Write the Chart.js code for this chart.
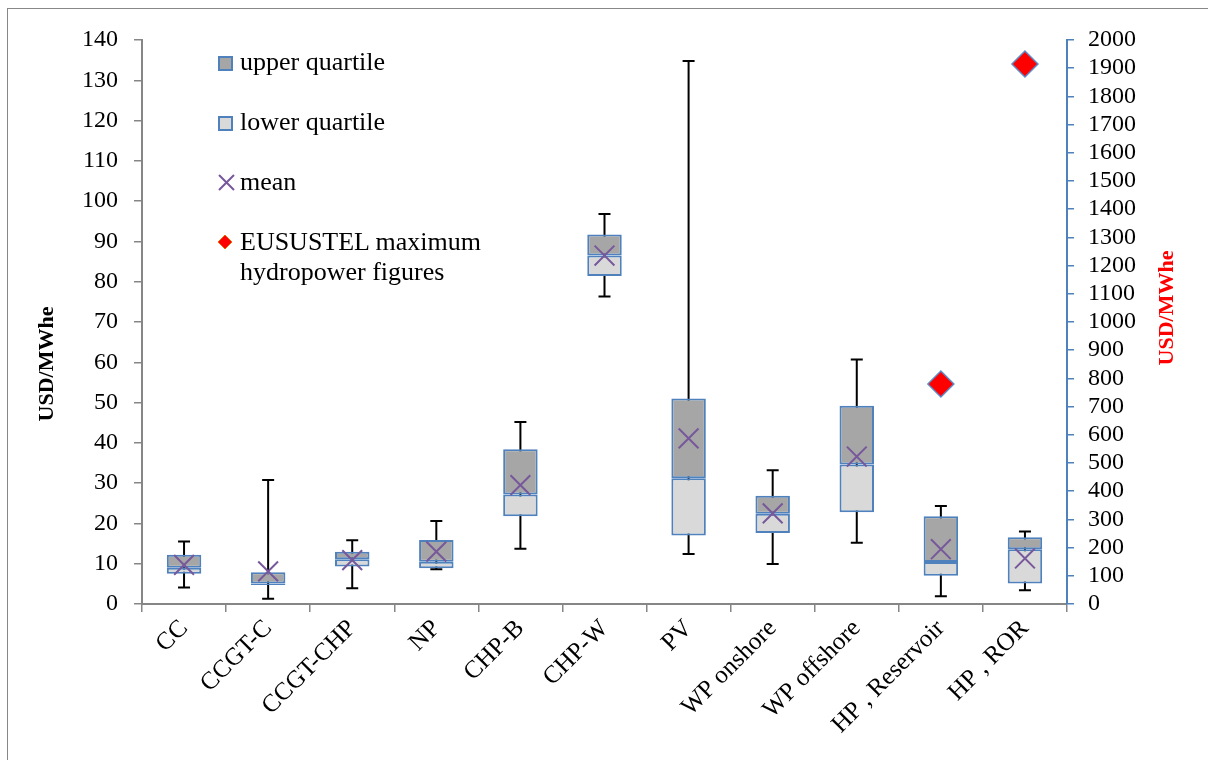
<!DOCTYPE html>
<html>
<head>
<meta charset="utf-8">
<script src="https://cdn.jsdelivr.net/npm/chart.js@4"></script>
<style>
  body { margin: 0; background: #fff; }
  .wrap { position: relative; width: 1208px; height: 760px; overflow: hidden; }
  .frame { position: absolute; left: 7px; top: 8px; width: 1220px; height: 780px; border: 1px solid #888; box-sizing: border-box; pointer-events: none; }
  canvas { position: absolute; left: 0; top: 0; }
  .legend { position: absolute; left: 218px; top: 47px; font-family: "Liberation Serif", serif; font-size: 26px; color: #000; }
  .legend .item { position: absolute; left: 0; white-space: nowrap; line-height: 30px; }
  .legend .txt { position: absolute; left: 22px; top: 0; }
  .sw { position: absolute; left: 0; top: 9px; width: 11px; height: 11px; border: 2px solid #4F81BD; }
  .ytitle { position: absolute; font-family: "Liberation Serif", serif; font-weight: bold; font-size: 22px; white-space: nowrap;
            transform: translate(-50%, -50%) rotate(-90deg); }
</style>
</head>
<body>
<div class="wrap">
  <canvas id="chart" width="1208" height="760"></canvas>
  <div class="frame"></div>
  <div class="ytitle" style="left:46px; top:364px; color:#000">USD/MWhe</div>
  <div class="ytitle" style="left:1166px; top:308px; color:#FF0000">USD/MWhe</div>
  <div class="legend">
    <div class="item" style="top:0px"><span class="sw" style="background:#A6A6A6"></span><span class="txt">upper quartile</span></div>
    <div class="item" style="top:60px"><span class="sw" style="background:#D9D9D9"></span><span class="txt">lower quartile</span></div>
    <div class="item" style="top:120px"><svg width="20" height="20" style="position:absolute;left:-1px;top:6px"><path d="M2 2 L17 17 M17 2 L2 17" stroke="#77589B" stroke-width="2"/></svg><span class="txt">mean</span></div>
    <div class="item" style="top:180px"><svg width="20" height="20" style="position:absolute;left:-2px;top:6px"><path d="M9 2 L16 9 L9 16 L2 9 Z" fill="#FF0000" stroke="#E46C0A" stroke-width="1"/></svg><span class="txt">EUSUSTEL maximum<br>hydropower figures</span></div>
  </div>
</div>
<script>
const categories = ['CC', 'CCGT-C', 'CCGT-CHP', 'NP', 'CHP-B', 'CHP-W', 'PV', 'WP onshore', 'WP offshore', 'HP , Reservoir', 'HP , ROR'];
const whiskerLow = [4.1, 1.3, 3.9, 8.6, 13.7, 76.3, 12.4, 9.9, 15.2, 1.9, 3.4];
const q1 = [7.5, 4.7, 9.3, 8.9, 21.8, 81.4, 17.0, 17.6, 22.8, 7.0, 5.1];
const median = [9.0, 5.1, 11.1, 10.5, 27.2, 86.5, 31.2, 22.4, 34.6, 10.4, 13.6];
const q3 = [12.2, 7.9, 13.0, 15.9, 38.4, 91.7, 51.0, 26.9, 49.2, 21.8, 16.6];
const whiskerHigh = [15.5, 30.8, 15.8, 20.6, 45.2, 96.8, 134.8, 33.2, 60.7, 24.3, 18.0];
const mean = [9.7, 8.1, 10.9, 13.0, 29.5, 86.5, 41.1, 22.5, 36.6, 13.6, 11.3];
const eusustelMax = [null, null, null, null, null, null, null, null, null, 780, 1915];
const leftTicks = { min: 0, max: 140, step: 10 };
const rightTicks = { min: 0, max: 2000, step: 100 };

const serif = "'Liberation Serif', 'Times New Roman', serif";

// whiskers drawn behind the boxes, using the chart's own scales
const whiskers = {
    id: 'whiskers',
    beforeDatasetsDraw(chart) {
        const ctx = chart.ctx;
        const x = chart.scales.x;
        const y = chart.scales.y;
        ctx.save();
        ctx.strokeStyle = '#000';
        ctx.lineWidth = 2;
        for (let i = 0; i < categories.length; i++) {
            let cx = x.getPixelForValue(i);
            let top = y.getPixelForValue(whiskerHigh[i]);
            let bot = y.getPixelForValue(whiskerLow[i]);
            ctx.beginPath();
            ctx.moveTo(cx, top); ctx.lineTo(cx, bot);
            ctx.moveTo(cx - 6, top); ctx.lineTo(cx + 6, top);
            ctx.moveTo(cx - 6, bot); ctx.lineTo(cx + 6, bot);
            ctx.stroke();
        }
        ctx.restore();
    }
};

let ctx = document.getElementById('chart');
let chart = new Chart(ctx, {
    type: 'bar',
    data: {
        labels: categories,
        datasets: [
            {
                type: 'line',
                label: 'mean',
                data: mean,
                showLine: false,
                pointStyle: 'crossRot',
                pointRadius: 14,
                pointBorderColor: '#77589B',
                pointBorderWidth: 2,
                borderColor: '#77589B',
                order: 0
            },
            {
                type: 'line',
                label: 'EUSUSTEL maximum hydropower figures',
                data: eusustelMax,
                yAxisID: 'y1',
                showLine: false,
                pointStyle: 'rectRot',
                pointRadius: 13,
                pointBackgroundColor: '#FF0000',
                pointBorderColor: '#5B8BC9',
                pointBorderWidth: 1.5,
                order: 0
            },
            {
                label: 'upper quartile',
                data: median.map((m, i) => [m, q3[i]]),
                backgroundColor: '#A6A6A6',
                borderColor: '#4F81BD',
                borderWidth: 2,
                borderSkipped: false,
                grouped: false,
                categoryPercentage: 1,
                barPercentage: 0.41,
                order: 1
            },
            {
                label: 'lower quartile',
                data: q1.map((v, i) => [v, median[i]]),
                backgroundColor: '#D9D9D9',
                borderColor: '#4F81BD',
                borderWidth: 2,
                borderSkipped: false,
                grouped: false,
                categoryPercentage: 1,
                barPercentage: 0.41,
                order: 2
            }
        ]
    },
    options: {
        responsive: false,
        animation: false,
        layout: { padding: { top: 40, left: 0, right: 0, bottom: 0 } },
        plugins: {
            legend: { display: false },
            tooltip: { enabled: false }
        },
        scales: {
            x: {
                offset: true,
                grid: {
                    offset: true,
                    drawOnChartArea: false,
                    color: '#868686',
                    tickLength: 8,
                    lineWidth: 1.5
                },
                border: { color: '#868686', width: 2 },
                ticks: {
                    minRotation: 45,
                    maxRotation: 45,
                    autoSkip: false,
                    color: '#000',
                    padding: 2,
                    font: { family: serif, size: 25 }
                },
                afterFit(scale) { scale.height = 156; }
            },
            y: {
                position: 'left',
                min: leftTicks.min,
                max: leftTicks.max,
                ticks: {
                    stepSize: leftTicks.step,
                    autoSkip: false,
                    color: '#000',
                    padding: 16,
                    font: { family: serif, size: 24 }
                },
                grid: {
                    drawOnChartArea: false,
                    color: '#868686',
                    tickLength: 8,
                    lineWidth: 1.5
                },
                border: { color: '#868686', width: 2 },
                afterFit(scale) { scale.width = 142; }
            },
            y1: {
                position: 'right',
                min: rightTicks.min,
                max: rightTicks.max,
                ticks: {
                    stepSize: rightTicks.step,
                    autoSkip: false,
                    color: '#000',
                    padding: 14,
                    font: { family: serif, size: 24 },
                    callback: (v) => String(v)
                },
                grid: {
                    drawOnChartArea: false,
                    color: '#4F81BD',
                    tickLength: 7,
                    lineWidth: 1.5
                },
                border: { color: '#4F81BD', width: 2 },
                afterFit(scale) { scale.width = 141; }
            }
        }
    },
    plugins: [whiskers]
});
</script>
</body>
</html>
